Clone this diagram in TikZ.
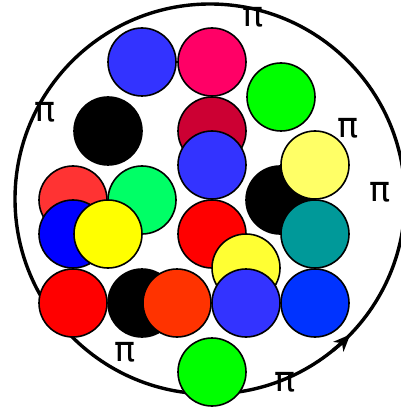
\documentclass[tikz,border=0pt]{standalone}
\usepackage{fontspec}
\newfontfamily\pifont{DejaVu Sans}
\usetikzlibrary{arrows.meta}
\definecolor{cBlueA}{HTML}{3333FF}
\definecolor{cMag}{HTML}{FF0066}
\definecolor{cGreen}{HTML}{00FF00}
\definecolor{cCrim}{HTML}{CC0033}
\definecolor{cPaleY}{HTML}{FFFF66}
\definecolor{cTeal}{HTML}{009999}
\definecolor{cRedL}{HTML}{FF3333}
\definecolor{cSpring}{HTML}{00FF66}
\definecolor{cBlue}{HTML}{0000FF}
\definecolor{cYellow}{HTML}{FFFF00}
\definecolor{cRed}{HTML}{FF0000}
\definecolor{cYel2}{HTML}{FFFF33}
\definecolor{cOrange}{HTML}{FF3300}
\definecolor{cBlueB}{HTML}{0033FF}
\tikzset{
  ball/.style={circle, draw=black, line width=1.6pt, minimum size=68pt, inner sep=0pt, fill=#1},
  pilabel/.style={font=\pifont\fontsize{35}{35}\selectfont, inner sep=0pt},
  ring/.style={circle, draw=black, line width=3.4pt, minimum size=390pt, inner sep=0pt}
}
\begin{document}
\begin{tikzpicture}[x=1pt,y=-1pt]
\useasboundingbox (0,0) rectangle (400,411);
\node[ring] (ring) at (210,199) {};
\draw[line width=3.4pt, -{Stealth[length=17pt,width=14pt,inset=5pt]}] (210,199) ++(51:195) arc[start angle=51, end angle=44, radius=195];
% balls
\node[ball=cBlueA] (b1) at (142,62) {};
\node[ball=cMag] (b2) at (212,62) {};
\node[ball=cGreen] (b3) at (281,97) {};
\node[ball=black] (b4) at (108,131) {};
\node[ball=cCrim] (b5) at (212,131) {};
\node[ball=cBlueA] (b6) at (212,165) {};
\node[ball=black] (b7) at (280,200) {};
\node[ball=cPaleY] (b8) at (315,165) {};
\node[ball=cTeal] (b9) at (315,234) {};
\node[ball=cRedL] (b10) at (73,200) {};
\node[ball=cSpring] (b11) at (142,200) {};
\node[ball=cBlue] (b12) at (73,234) {};
\node[ball=cYellow] (b13) at (108,234) {};
\node[ball=cRed] (b14) at (212,234) {};
\node[ball=cYel2] (b15) at (246,268) {};
\node[ball=cRed] (b16) at (73,303) {};
\node[ball=black] (b17) at (142,303) {};
\node[ball=cOrange] (b18) at (177,303) {};
\node[ball=cBlueA] (b19) at (246,303) {};
\node[ball=cBlueB] (b20) at (315,303) {};
\node[ball=cGreen] (b21) at (212,372) {};
% pi labels
\node[pilabel] (p1) at (253,17) {π};
\node[pilabel] (p2) at (45,112) {π};
\node[pilabel] (p3) at (348,128) {π};
\node[pilabel] (p4) at (380,192) {π};
\node[pilabel] (p5) at (125,352) {π};
\node[pilabel] (p6) at (285,382) {π};
\end{tikzpicture}
\end{document}
